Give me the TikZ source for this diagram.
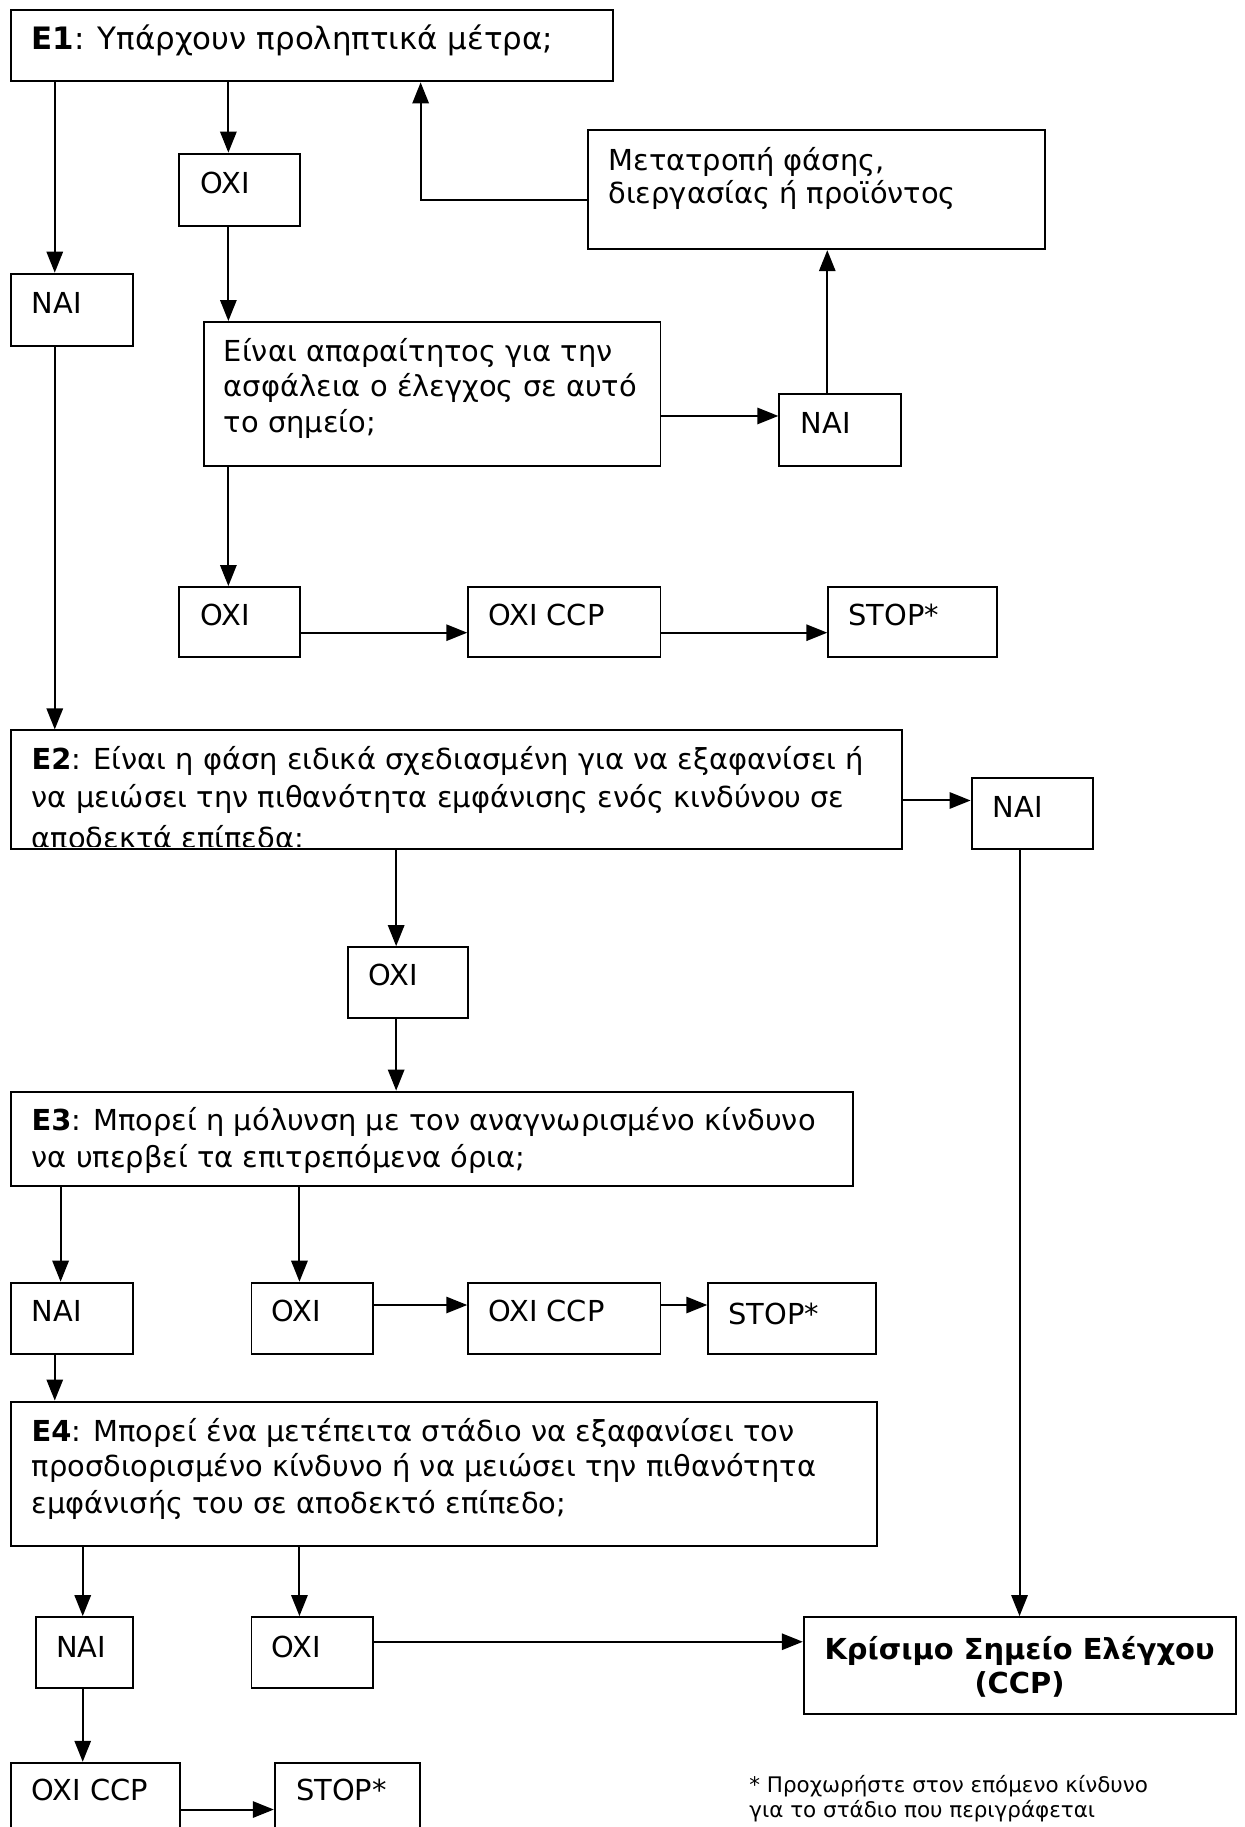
\documentclass[tikz,border=0pt]{standalone}
\usepackage{fontspec}
\setmainfont{DejaVu Sans}
\usetikzlibrary{arrows.meta,calc}
\newcommand\fsmain{\fontsize{24.8}{30}\selectfont}
\newcommand\fsbig{\fontsize{26.5}{30}\selectfont}
\newcommand\fsnote{\fontsize{18.4}{21}\selectfont}
\tikzset{
  box/.style={draw, line width=1.7pt, rectangle, inner sep=0pt, anchor=north west},
  lbl/.style={anchor=base west, inner sep=0pt, font=\fsmain},
  arr/.style={line width=1.7pt, -{Triangle[length=18pt,width=14pt]}},
  ln/.style={line width=1.7pt}
}
\begin{document}
\begin{tikzpicture}[x=1pt,y=-1pt]
\useasboundingbox (0,0) rectangle (1068,1568);
\fill[white] (0,0) rectangle (1068,1568);
\clip (0,0) rectangle (1068,1568);

% ---------- boxes ----------
\node[box, minimum width=516pt, minimum height=61pt] (e1) at (9,8) {};
\node[box, minimum width=104pt, minimum height=62pt] (oxi1) at (153,131) {};
\node[box, minimum width=104pt, minimum height=62pt] (nai1) at (9,234) {};
\node[box, minimum width=392pt, minimum height=102pt] (meta) at (504,111) {};
\node[box, minimum width=391.5pt, minimum height=123.5pt] (q) at (174.5,275.5) {};
\node[box, minimum width=104pt, minimum height=62pt] (nai2) at (668,337) {};
\node[box, minimum width=104pt, minimum height=60pt] (oxi2) at (153,503) {};
\node[box, minimum width=165pt, minimum height=60pt] (occp1) at (401,503) {};
\node[box, minimum width=145pt, minimum height=60pt] (stop1) at (710,503) {};
\node[box, minimum width=764pt, minimum height=102pt] (e2) at (9,626) {};
\node[box, minimum width=104pt, minimum height=61pt] (nai3) at (833,667) {};
\node[box, minimum width=103pt, minimum height=61pt] (oxi3) at (298,812) {};
\node[box, minimum width=722pt, minimum height=81pt] (e3) at (9,936) {};
\node[box, minimum width=104pt, minimum height=61pt] (nai4) at (9,1100) {};
\node[box, minimum width=104pt, minimum height=61pt] (oxi4) at (215,1100) {};
\node[box, minimum width=165pt, minimum height=61pt] (occp2) at (401,1100) {};
\node[box, minimum width=144pt, minimum height=61pt] (stop2) at (607,1100) {};
\node[box, minimum width=743pt, minimum height=124pt] (e4) at (9,1202) {};
\node[box, minimum width=83pt, minimum height=61pt] (nai5) at (30,1387) {};
\node[box, minimum width=104pt, minimum height=61pt] (oxi5) at (215,1387) {};
\node[box, minimum width=371pt, minimum height=83pt] (ccp) at (689,1387) {};
\node[box, minimum width=145pt, minimum height=70pt] (occp3) at (9,1512) {};
\node[box, minimum width=125pt, minimum height=70pt] (stop3) at (235,1512) {};

% ---------- texts ----------
\node[lbl, font=\fsbig] (e1t) at (27,42.5) {\textbf{E1}: Υπάρχουν προληπτικά μέτρα;};
\node[lbl] (oxi1t) at (172,166) {OXI};
\node[lbl] (nai1t) at (27,269) {NAI};
\node[lbl] (meta1) at (522,146) {Μετατροπή φάσης,};
\node[lbl] (meta2) at (522,175) {διεργασίας ή προϊόντος};
\node[lbl] (q1) at (192,310) {Είναι απαραίτητος για την};
\node[lbl] (q2) at (192,340.5) {ασφάλεια ο έλεγχος σε αυτό};
\node[lbl] (q3) at (192,371) {το σημείο;};
\node[lbl] (nai2t) at (687,372) {NAI};
\node[lbl] (oxi2t) at (172,537) {OXI};
\node[lbl] (occp1t) at (419,537) {OXI CCP};
\node[lbl] (stop1t) at (728,537) {STOP*};
\begin{scope}
\clip (e2.north west) rectangle ($(e2.south east)+(0,-3)$);
\node[lbl] (e2a) at (27,660) {\textbf{E2}: Είναι η φάση ειδικά σχεδιασμένη για να εξαφανίσει ή};
\node[lbl] (e2b) at (27,693) {να μειώσει την πιθανότητα εμφάνισης ενός κινδύνου σε};
\node[lbl] (e2c) at (27,728) {αποδεκτά επίπεδα;};
\end{scope}
\node[lbl] (nai3t) at (852,701.5) {NAI};
\node[lbl] (oxi3t) at (316,845.5) {OXI};
\node[lbl] (e3a) at (27,970) {\textbf{E3}: Μπορεί η μόλυνση με τον αναγνωρισμένο κίνδυνο};
\node[lbl] (e3b) at (27,1002) {να υπερβεί τα επιτρεπόμενα όρια;};
\node[lbl] (nai4t) at (27,1134.5) {NAI};
\node[lbl] (oxi4t) at (233,1134.5) {OXI};
\node[lbl] (occp2t) at (419,1134.5) {OXI CCP};
\node[lbl] (stop2t) at (625,1136.5) {STOP*};
\node[lbl] (e4a) at (27,1237) {\textbf{E4}: Μπορεί ένα μετέπειτα στάδιο να εξαφανίσει τον};
\node[lbl] (e4b) at (27,1267) {προσδιορισμένο κίνδυνο ή να μειώσει την πιθανότητα};
\node[lbl] (e4c) at (27,1299) {εμφάνισής του σε αποδεκτό επίπεδο;};
\node[lbl] (nai5t) at (48,1422.5) {NAI};
\node[lbl] (oxi5t) at (233,1422.5) {OXI};
\node[anchor=base, inner sep=0pt, font=\fsmain\bfseries] (ccp1) at (875,1424.5) {Κρίσιμο Σημείο Ελέγχου};
\node[anchor=base, inner sep=0pt, font=\fsmain\bfseries] (ccp2) at (875,1453.5) {(CCP)};
\node[lbl] (occp3t) at (27,1545.5) {OXI CCP};
\node[lbl] (stop3t) at (254,1545.5) {STOP*};
\node[anchor=base west, inner sep=0pt, font=\fsnote] (note1) at (643,1538.5) {* Προχωρήστε στον επόμενο κίνδυνο};
\node[anchor=base west, inner sep=0pt, font=\fsnote] (note2) at (643,1559.5) {για το στάδιο που περιγράφεται};

% ---------- connector columns / rows ----------
\coordinate (xA) at (47,0);
\coordinate (xB) at (196,0);
\coordinate (xC) at (361,0);
\coordinate (xD) at (710,0);
\coordinate (xE) at (340,0);
\coordinate (xF) at (875,0);
\coordinate (xG) at (52,0);
\coordinate (xH) at (257,0);
\coordinate (xI) at (71,0);
\coordinate (yQ) at (0,357);
\coordinate (yM) at (0,172);
\coordinate (y2) at (0,543);
\coordinate (yE2) at (0,687);
\coordinate (y4) at (0,1120);
\coordinate (y5) at (0,1409);
\coordinate (y6) at (0,1553);

% ---------- connectors ----------
\draw[arr] (e1.south -| xA) -- (nai1.north -| xA);
\draw[arr] (e1.south -| xB) -- (oxi1.north -| xB);
\draw[arr] (oxi1.south -| xB) -- (q.north -| xB);
\draw[arr] (q.east |- yQ) -- (nai2.west |- yQ);
\draw[arr] (nai2.north -| xD) -- (meta.south -| xD);
\draw[arr] (meta.west |- yM) -| (e1.south -| xC);
\draw[arr] (q.south -| xB) -- (oxi2.north -| xB);
\draw[arr] (oxi2.east |- y2) -- (occp1.west |- y2);
\draw[arr] (occp1.east |- y2) -- (stop1.west |- y2);
\draw[arr] (nai1.south -| xA) -- (e2.north -| xA);
\draw[arr] (e2.east |- yE2) -- (nai3.west |- yE2);
\draw[arr] (nai3.south -| xF) -- (ccp.north -| xF);
\draw[arr] (e2.south -| xE) -- (oxi3.north -| xE);
\draw[arr] (oxi3.south -| xE) -- (e3.north -| xE);
\draw[arr] (e3.south -| xG) -- (nai4.north -| xG);
\draw[arr] (e3.south -| xH) -- (oxi4.north -| xH);
\draw[arr] (oxi4.east |- y4) -- (occp2.west |- y4);
\draw[arr] (occp2.east |- y4) -- (stop2.west |- y4);
\draw[arr] (nai4.south -| xA) -- (e4.north -| xA);
\draw[arr] (e4.south -| xI) -- (nai5.north -| xI);
\draw[arr] (e4.south -| xH) -- (oxi5.north -| xH);
\draw[arr] (oxi5.east |- y5) -- (ccp.west |- y5);
\draw[arr] (nai5.south -| xI) -- (occp3.north -| xI);
\draw[arr] (occp3.east |- y6) -- (stop3.west |- y6);
\end{tikzpicture}
\end{document}
